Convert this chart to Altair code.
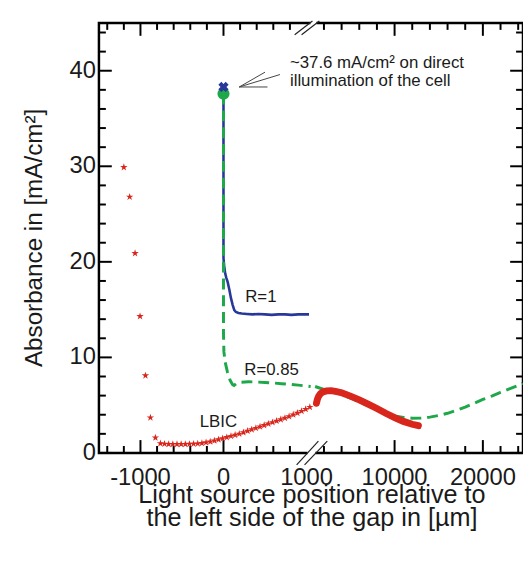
import altair as alt
import pandas as pd

# ---------------- data ----------------
# LBIC measured points, left (linear) part of the broken x axis, in µm
lbic_left_x = [-1200, -1130, -1065, -1005, -940, -880, -820, -760, -710, -660, -610,
               -560, -510, -460, -410, -360, -310, -260, -210, -160, -110, -60, -10,
               40, 90, 140, 190, 240, 290, 340, 390, 440, 490, 540, 590, 640, 690,
               740, 790, 840, 890, 940, 990, 1040]
lbic_left_y = [29.9, 26.8, 20.9, 14.3, 8.1, 3.7, 1.6, 1.0, 0.95, 0.92, 0.92,
               0.92, 0.92, 0.92, 0.93, 0.95, 0.98, 1.02, 1.1, 1.18, 1.28, 1.4, 1.52,
               1.64, 1.76, 1.88, 2.0, 2.15, 2.3, 2.45, 2.6, 2.75, 2.9, 3.05, 3.2, 3.35, 3.5,
               3.65, 3.82, 4.0, 4.18, 4.38, 4.58, 4.8]
# LBIC, right (compressed) part of the x axis
lbic_right_x = [1150, 1250, 1400, 1600, 1900, 2300, 2800, 3300, 4000, 5000, 6000,
                7000, 8000, 9000, 10000, 11000, 12000, 12700]
lbic_right_y = [5.2, 5.6, 5.95, 6.2, 6.4, 6.5, 6.52, 6.45, 6.3, 5.95, 5.55,
                5.1, 4.65, 4.15, 3.7, 3.3, 3.0, 2.85]
# simulation R=1 (left part only)
r1_x = [0, 0, 8, 20, 35, 50, 70, 90, 110, 130, 150, 180, 220, 280, 350, 420, 500,
        580, 660, 740, 820, 900, 970, 1030]
r1_y = [37.6, 20.4, 19.6, 18.8, 18.3, 17.9, 17.1, 16.2, 15.5, 14.95, 14.75, 14.65,
        14.6, 14.55, 14.5, 14.55, 14.5, 14.45, 14.5, 14.5, 14.45, 14.5, 14.5, 14.5]
# simulation R=0.85
r085_left_x = [0, 0, 5, 20, 48, 80, 110, 127, 160, 200, 300, 400, 500, 600, 700,
               800, 900, 1000, 1050]
r085_left_y = [37.6, 12.5, 10.6, 9.5, 8.45, 7.6, 7.15, 7.06, 7.3, 7.4, 7.45, 7.42,
               7.38, 7.32, 7.25, 7.18, 7.1, 7.0, 6.95]
r085_right_x = [1000, 1500, 2000, 3000, 4000, 5000, 6000, 7000, 8000, 9000, 10000,
                11000, 12000, 13000, 14000, 15000, 16000, 17000, 18000, 19000, 20000,
                21000, 22000, 23000, 24000, 24500]
r085_right_y = [6.95, 6.8, 6.65, 6.4, 6.1, 5.75, 5.35, 4.95, 4.5, 4.15, 3.88,
                3.72, 3.64, 3.65, 3.75, 3.92, 4.15, 4.45, 4.8, 5.2, 5.6,
                5.95, 6.35, 6.7, 7.05, 7.3]
direct_value = 37.6
direct_cross = 38.3

# axis ticks / labels
y_labels = [0, 10, 20, 30, 40]
y_minor = [2, 4, 6, 8, 12, 14, 16, 18, 22, 24, 26, 28, 32, 34, 36, 38, 42, 44]
xa_labels = [-1000, 0, 1000]
xa_major = [-1000, 0]
xa_minor = [-1400, -1200, -800, -600, -400, -200, 200, 400, 600, 800]
xb_labels = [10000, 20000]
xb_major = [10000, 20000]
xb_minor = [2000, 4000, 6000, 8000, 12000, 14000, 16000, 18000, 22000, 24000]
y_title = "Absorbance in [mA/cm²]"
x_title = ["Light source position relative to", "the left side of the gap in [µm]"]

# annotation text & pointer
annot_lines = ["~37.6 mA/cm² on direct", "illumination of the cell"]
annot_x = [800, 800]
annot_y = [40.85, 38.95]
pointer_x = [190, 190, 190]
pointer_y = [38.3, 38.3, 38.3]
pointer_x2 = [500, 680, 530]
pointer_y2 = [39.85, 39.6, 38.3]
labels_text = ["R=1", "R=0.85", "LBIC"]
labels_x = [262, 250, -286]
labels_y = [16.3, 8.7, 3.2]

# ---------------- layout ----------------
W, H = 429, 435
FONT = "Liberation Sans"
TXT = "#1a1a1a"
RED, BLUE, GREEN = "#d9261c", "#28389a", "#1fa84a"
STAR = ("M0,-1L0.2245,-0.309L0.951,-0.309L0.363,0.118L0.588,0.809L0,0.382"
        "L-0.588,0.809L-0.363,0.118L-0.951,-0.309L-0.2245,-0.309Z")

sA = alt.Scale(domain=[-1500, 1050], range=[0, 214.2])
sB = alt.Scale(domain=[1000, 24500], range=[218.7, 428.6])
sY = alt.Scale(domain=[0, 45])


def XA(field="x"):
    return alt.X(f"{field}:Q", scale=sA, axis=None)


def XB(field="x"):
    return alt.X(f"{field}:Q", scale=sB, axis=None)


def Y(field="y"):
    return alt.Y(f"{field}:Q", scale=sY, axis=None)


def df(**kw):
    d = pd.DataFrame(kw)
    d["i"] = range(len(d))
    return d


txt_style = dict(font=FONT, color=TXT)

# ---- left-segment layers ----
blue_line = alt.Chart(df(x=r1_x, y=r1_y)).mark_line(
    color=BLUE, strokeWidth=2.6).encode(x=XA(), y=Y(), order="i:Q")
green_left = alt.Chart(df(x=r085_left_x, y=r085_left_y)).mark_line(
    color=GREEN, strokeWidth=3, strokeDash=[11, 6]).encode(x=XA(), y=Y(), order="i:Q")
stars = alt.Chart(df(x=lbic_left_x, y=lbic_left_y)).mark_point(
    shape=STAR, size=62, filled=True, color=RED, opacity=1).encode(x=XA(), y=Y())
circle = alt.Chart(df(x=[0], y=[direct_value])).mark_point(
    shape="circle", size=150, filled=True, color=GREEN, opacity=1).encode(x=XA(), y=Y())
xmark = alt.Chart(df(x=[0], y=[direct_cross])).mark_point(
    shape="cross", angle=45, size=110, filled=True, color=BLUE, opacity=1).encode(x=XA(), y=Y())
pointer = alt.Chart(df(x=pointer_x, y=pointer_y, x2=pointer_x2, y2=pointer_y2)).mark_rule(
    color="#444", strokeWidth=1).encode(x=XA(), y=Y(), x2="x2:Q", y2="y2:Q")
annot = alt.Chart(df(x=annot_x, y=annot_y, t=annot_lines)).mark_text(
    align="left", baseline="middle", fontSize=17, **txt_style).encode(
    x=XA(), y=Y(), text="t:N")
labels = alt.Chart(df(x=labels_x, y=labels_y, t=labels_text)).mark_text(
    align="left", baseline="middle", fontSize=17, **txt_style).encode(
    x=XA(), y=Y(), text="t:N")

tick_style = dict(color="black", strokeWidth=2)
xa_ticks = []
for vals, ln in ((xa_major, 13), (xa_minor, 7)):
    d = df(x=vals)
    xa_ticks.append(alt.Chart(d).mark_rule(**tick_style).encode(
        x=XA(), y=alt.value(H), y2=alt.value(H - ln)))
    xa_ticks.append(alt.Chart(d).mark_rule(**tick_style).encode(
        x=XA(), y=alt.value(0), y2=alt.value(ln)))
y_ticks = []
for vals, ln in ((y_labels, 13), (y_minor, 7)):
    d = df(y=vals)
    y_ticks.append(alt.Chart(d).mark_rule(**tick_style).encode(
        y=Y(), x=alt.value(0), x2=alt.value(ln)))
    y_ticks.append(alt.Chart(d).mark_rule(**tick_style).encode(
        y=Y(), x=alt.value(W), x2=alt.value(W - ln)))

# tick labels as text placed through the scales
xa_text = alt.Chart(df(x=xa_labels, t=[str(v) for v in xa_labels])).mark_text(
    align="center", baseline="alphabetic", fontSize=24, **txt_style).encode(
    x=XA(), y=alt.value(H + 32), text="t:N")
y_text = alt.Chart(df(y=y_labels, t=[str(v) for v in y_labels])).mark_text(
    align="right", baseline="middle", fontSize=24, **txt_style).encode(
    y=Y(), x=alt.value(-3), text="t:N")

left = alt.layer(blue_line, green_left, *xa_ticks, *y_ticks, pointer, annot, labels,
                 circle, xmark, stars, xa_text, y_text)

# ---- right-segment layers ----
green_right = alt.Chart(df(x=r085_right_x, y=r085_right_y)).mark_line(
    color=GREEN, strokeWidth=3, strokeDash=[11, 6]).encode(x=XB(), y=Y(), order="i:Q")
red_band = alt.Chart(df(x=lbic_right_x, y=lbic_right_y)).mark_line(
    color=RED, strokeWidth=7, strokeCap="round").encode(x=XB(), y=Y(), order="i:Q")
xb_ticks = []
for vals, ln in ((xb_major, 13), (xb_minor, 7)):
    d = df(x=vals)
    xb_ticks.append(alt.Chart(d).mark_rule(**tick_style).encode(
        x=XB(), y=alt.value(H), y2=alt.value(H - ln)))
    xb_ticks.append(alt.Chart(d).mark_rule(**tick_style).encode(
        x=XB(), y=alt.value(0), y2=alt.value(ln)))
xb_text = alt.Chart(df(x=xb_labels, t=[str(v) for v in xb_labels])).mark_text(
    align="center", baseline="alphabetic", fontSize=24, **txt_style).encode(
    x=XB(), y=alt.value(H + 32), text="t:N")

right = alt.layer(green_right, red_band, *xb_ticks, xb_text)

# ---- titles ----
ytitle = alt.Chart(df(t=[y_title])).mark_text(
    angle=270, align="center", baseline="middle", fontSize=24.5, **txt_style).encode(
    x=alt.value(-65), y=alt.value(H / 2), text="t:N")
xtitle = alt.Chart(df(t=x_title, k=[0, 1])).mark_text(
    align="center", baseline="alphabetic", fontSize=25.5, **txt_style).encode(
    x=alt.value(W / 2 + 1),
    y=alt.Y("k:Q", scale=alt.Scale(domain=[0, 1], range=[H + 51, H + 74]), axis=None),
    text="t:N")

# ---- axis-break decoration (pixel positions of the "//" marks) ----
brk = df(k=[0])
gap_b = alt.Chart(brk).mark_rule(color="white", strokeWidth=5).encode(
    x=alt.value(211), x2=alt.value(219), y=alt.value(H), y2=alt.value(H))
gap_t = alt.Chart(brk).mark_rule(color="white", strokeWidth=5).encode(
    x=alt.value(214), x2=alt.value(220), y=alt.value(0), y2=alt.value(0))
slash = []
for (x1, y1, x2, y2) in ((200, H + 12, 222, H - 12), (208, H + 12, 231, H - 12),
                         (198, 12, 216, -2), (205, 12, 223, -2)):
    slash.append(alt.Chart(brk).mark_rule(color="#222", strokeWidth=1.2).encode(
        x=alt.value(x1), y=alt.value(y1), x2=alt.value(x2), y2=alt.value(y2)))

chart = alt.layer(left, right, ytitle, xtitle, gap_b, gap_t, *slash).resolve_scale(
    x="independent", y="independent").properties(
    width=W, height=H,
    padding={"left": 92, "top": 12, "right": 0, "bottom": 90},
    autosize=alt.AutoSizeParams(type="none"),
    background="white",
).configure_view(stroke="black", strokeWidth=2.5)

chart.save("out.html", embed_options={"renderer": "svg", "actions": False})
